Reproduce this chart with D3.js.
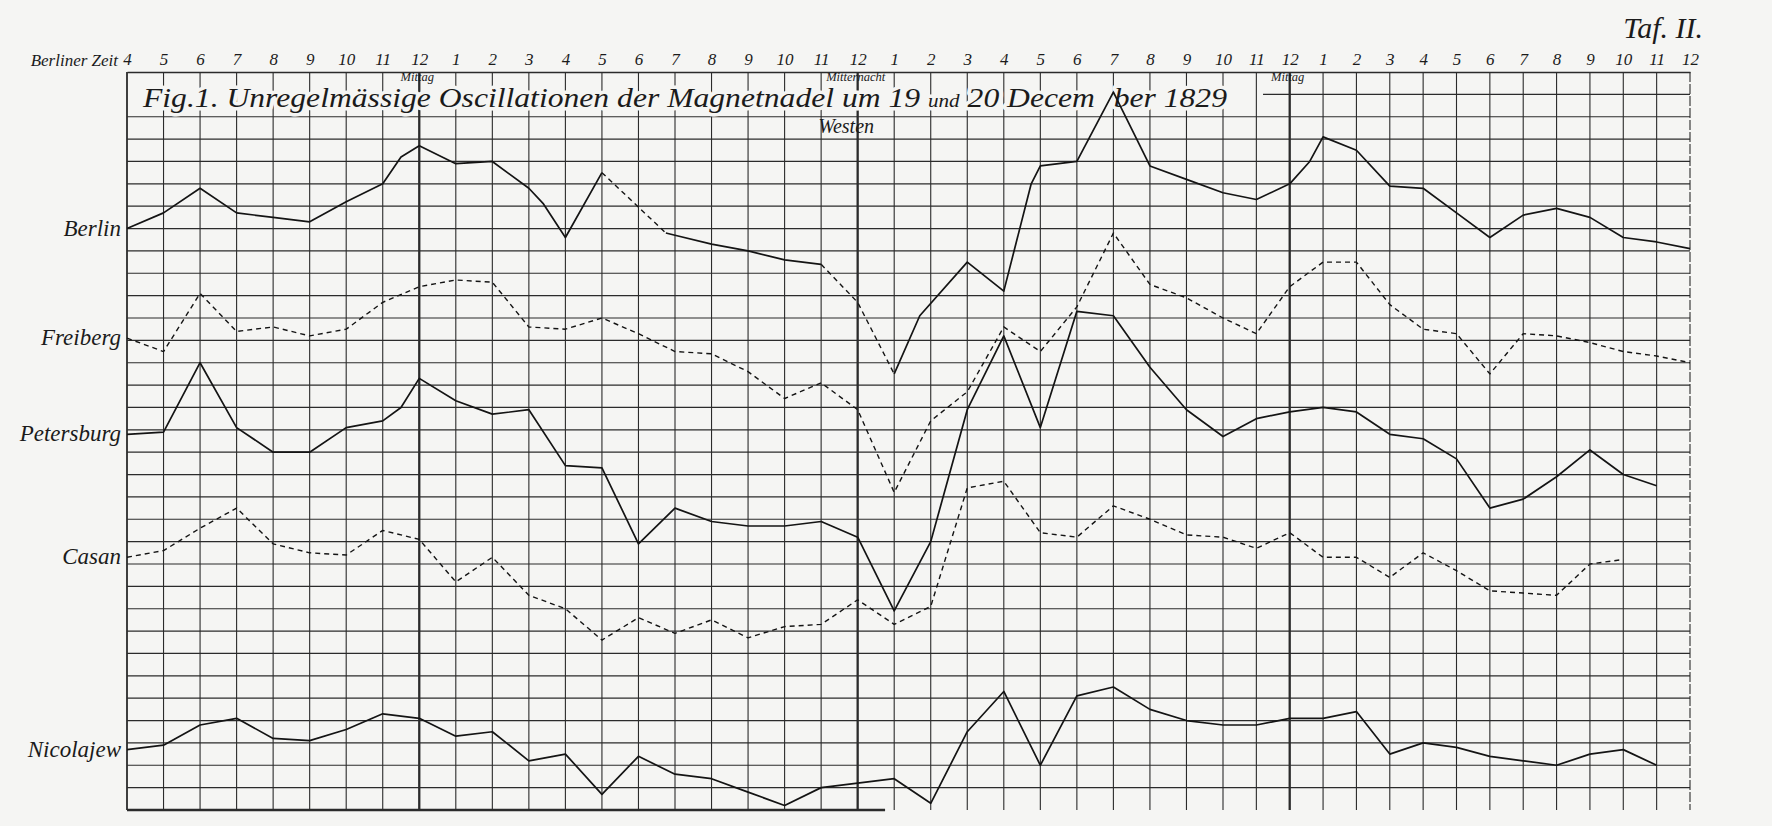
<!DOCTYPE html>
<html>
<head>
<meta charset="utf-8">
<script src="https://cdn.jsdelivr.net/npm/d3@7"></script>
<style>
html,body{margin:0;padding:0;background:#f4f4f1;}
svg{display:block;}
text{font-family:"Liberation Serif","DejaVu Serif",serif;font-style:italic;fill:#1b1b1b;}
</style>
</head>
<body>
<svg id="chart" width="1772" height="826"></svg>
<script>
// ---------- data ----------
// hours counted from 4 o'clock (Berlin time) on 19 December 1829
const hourLabels = ["4","5","6","7","8","9","10","11","12","1","2","3","4","5","6","7","8","9","10","11","12",
  "1","2","3","4","5","6","7","8","9","10","11","12","1","2","3","4","5","6","7","8","9","10","11","12"];
const markerHours = [8, 20, 32];
const markerLabels = ["Mittag", "Mitternacht", "Mittag"];

// values in scale divisions above the bottom line (up = Westen)
const berlinHours = [0,1,2,3,4,5,6,7,7.5,8,9,10,11,11.4,12,13,14.75,15,16,17,18,19,20,21,21.7,23,24,24.75,25,26,27,28,29,30,31,32,32.6,33,34,35,36,37,38,39,40,41,42,43,44];
const berlinValues = [26.0,26.7,27.8,26.7,26.5,26.3,27.2,28.0,29.2,29.7,28.9,29.0,27.8,27.1,25.6,28.5,25.8,25.7,25.3,25.0,24.6,24.4,22.7,19.5,22.1,24.5,23.2,28.0,28.8,29.0,32.1,28.8,28.2,27.6,27.3,28.0,29.0,30.1,29.5,27.9,27.8,26.7,25.6,26.6,26.9,26.5,25.6,25.4,25.1];
const berlinDashed = [[13,14.75],[19,21]];

const freibergHours = d3.range(0, 45);
const freibergValues = [21.1,20.5,23.1,21.4,21.6,21.2,21.5,22.7,23.4,23.7,
  23.6,21.6,21.5,22.0,21.3,20.5,20.4,19.6,18.4,19.1,
  17.9,14.2,17.4,18.7,21.6,20.5,22.5,25.8,23.5,22.9,
  22.0,21.3,23.4,24.5,24.5,22.6,21.5,21.3,19.5,21.3,
  21.2,20.9,20.5,20.3,20.0];

const petersburgHours = [0,1,2,3,4,5,6,7,7.5,8,9,10,11,12,13,14,15,16,17,18,19,20,21,22,23,24,25,26,27,28,29,30,31,32,33,34,35,36,37,38,39,40,41,42,43];
const petersburgValues = [16.8,16.9,20.0,17.1,16.0,16.0,17.1,17.4,18.0,19.3,18.3,17.7,17.9,15.4,15.3,11.9,13.5,12.9,12.7,12.7,12.9,12.2,8.9,12.0,17.9,21.2,17.1,22.3,22.1,19.8,17.9,16.7,17.5,17.8,18.0,17.8,16.8,16.6,15.7,13.5,13.9,14.9,16.1,15.0,14.5];

const casanHours = d3.range(0, 43);
const casanValues = [11.3,11.6,12.6,13.5,11.9,11.5,11.4,12.5,12.1,10.2,
  11.3,9.6,9.0,7.6,8.6,7.9,8.5,7.7,8.2,8.3,
  9.4,8.3,9.1,14.4,14.7,12.4,12.2,13.6,13.0,12.3,
  12.2,11.7,12.4,11.3,11.3,10.4,11.5,10.7,9.8,9.7,
  9.6,11.0,11.2];

const nicolajewHours = d3.range(0, 44);
const nicolajewValues = [2.7,2.9,3.8,4.1,3.2,3.1,3.6,4.3,4.1,3.3,
  3.5,2.2,2.5,0.7,2.4,1.6,1.4,0.8,0.2,1.0,
  1.2,1.4,0.3,3.5,5.3,2.0,5.1,5.5,4.5,4.0,
  3.8,3.8,4.1,4.1,4.4,2.5,3.0,2.8,2.4,2.2,
  2.0,2.5,2.7,2.0];

const stationNames = ["Berlin","Freiberg","Petersburg","Casan","Nicolajew"];

// ---------- layout ----------
const svg = d3.select("#chart");
const W = 1772, H = 826;
const plotLeft = 127, plotBend = 1223, plotRight = 1690, plotTop = 72, plotBottom = 810;
const ink = "#1b1b1b";
const paper = "#f5f5f3";

const x = d3.scaleLinear().domain([0, 30, 44]).range([plotLeft, plotBend, plotRight]);
const y = d3.scaleLinear().domain([0, 33]).range([plotBottom, plotTop]);

svg.append("rect").attr("width", W).attr("height", H).attr("fill", paper);

// ---------- grid ----------
const grid = svg.append("g").attr("stroke", "#2b2b2b").attr("fill", "none");
d3.range(0, 33).forEach(v => {
  let x0 = 0, x1 = 44, w = 1.2;
  if (v === 32) x0 = 31.2;          // short line under the title band, right part only
  if (v === 0) { x1 = 20.75; w = 2.4; }
  grid.append("line")
    .attr("x1", x(x0)).attr("x2", x(x1))
    .attr("y1", y(v)).attr("y2", y(v))
    .attr("stroke-width", w);
});
d3.range(0, 45).forEach(h => {
  const heavy = markerHours.includes(h);
  grid.append("line")
    .attr("x1", x(h)).attr("x2", x(h))
    .attr("y1", y(33)).attr("y2", y(0))
    .attr("stroke-width", heavy ? 2.3 : (h === 0 ? 1.8 : 1.1))
    .attr("stroke-dasharray", h === 44 ? "10,2" : null);
});

// top axis with hour labels
const axis = d3.axisTop(x)
  .tickValues(d3.range(0, 45))
  .tickFormat(i => hourLabels[i])
  .tickSize(0).tickSizeOuter(0).tickPadding(7);
const ax = svg.append("g").attr("transform", `translate(0,${y(33)})`).call(axis);
ax.select(".domain").attr("stroke", "#2b2b2b").attr("stroke-width", 1.4);
ax.selectAll("text")
  .style("font-family", '"Liberation Serif","DejaVu Serif",serif')
  .style("font-style", "italic")
  .style("font-size", "17px")
  .attr("fill", ink);

svg.append("text").attr("x", x(0) - 9).attr("y", 66)
  .attr("text-anchor", "end").style("font-size", "17px").text("Berliner Zeit");

svg.append("text").attr("x", plotRight + 13).attr("y", 38)
  .attr("text-anchor", "end").style("font-size", "30px").text("Taf. II.");

// title with halo that breaks the grid lines
const title = svg.append("text")
  .attr("x", x(0) + 16).attr("y", 107)
  .attr("textLength", 1084).attr("lengthAdjust", "spacingAndGlyphs")
  .style("font-size", "27px")
  .attr("stroke", paper).attr("stroke-width", 7).attr("paint-order", "stroke")
  .attr("stroke-linejoin", "round");
title.append("tspan").text("Fig.1. Unregelmässige Oscillationen der Magnetnadel um 19 ");
title.append("tspan").style("font-size", "18px").text("und");
title.append("tspan").text(" 20 Decem");
title.append("tspan").attr("dx", 16).text("ber 1829");

// marker labels
markerHours.forEach((h, i) => {
  svg.append("text").attr("x", x(h) - 2).attr("y", 81)
    .attr("text-anchor", "middle").style("font-size", "12.5px").text(markerLabels[i]);
});
svg.append("text").attr("x", x(19) - 3).attr("y", 133)
  .style("font-size", "20px").text("Westen");

// ---------- series ----------
const series = [
  {name: stationNames[0], hours: berlinHours, values: berlinValues, dashed: berlinDashed},
  {name: stationNames[1], hours: freibergHours, values: freibergValues, dashed: [[0, 44]]},
  {name: stationNames[2], hours: petersburgHours, values: petersburgValues, dashed: []},
  {name: stationNames[3], hours: casanHours, values: casanValues, dashed: [[0, 44]]},
  {name: stationNames[4], hours: nicolajewHours, values: nicolajewValues, dashed: []}
];

function splitRuns(s) {
  const pts = s.hours.map((h, i) => ({h, v: s.values[i]}));
  const runs = [];
  for (let i = 0; i < pts.length - 1; i++) {
    const a = pts[i], b = pts[i + 1];
    const dash = s.dashed.some(([p, q]) => a.h >= p && b.h <= q);
    const last = runs[runs.length - 1];
    if (last && last.dash === dash) last.pts.push(b);
    else runs.push({dash, pts: [a, b]});
  }
  return runs;
}

const line = d3.line().x(d => x(d.h)).y(d => y(d.v));
const lines = svg.append("g").attr("fill", "none").attr("stroke", "#141414");
series.forEach(s => {
  splitRuns(s).forEach(r => {
    lines.append("path")
      .attr("d", line(r.pts))
      .attr("stroke-width", r.dash ? 1.4 : 1.7)
      .attr("stroke-dasharray", r.dash ? "5,4" : null)
      .attr("stroke-linejoin", "round");
  });
  svg.append("text")
    .attr("x", x(0) - 6).attr("y", y(s.values[0]) + 7)
    .attr("text-anchor", "end").style("font-size", "23px").text(s.name);
});
</script>
</body>
</html>
